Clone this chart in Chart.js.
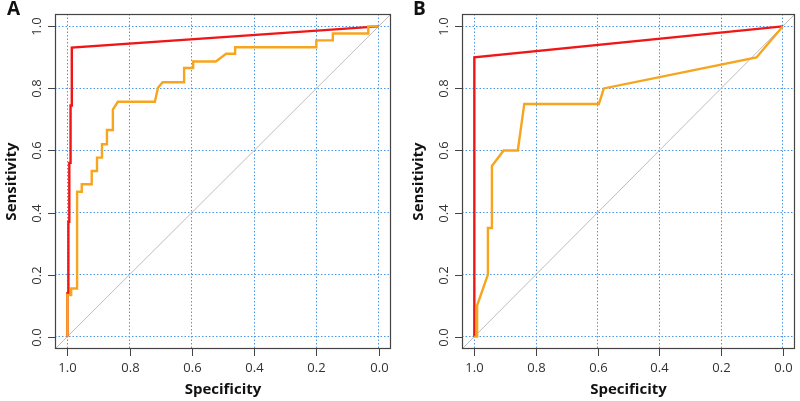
<!DOCTYPE html>
<html>
<head>
<meta charset="utf-8">
<script src="https://cdn.jsdelivr.net/npm/chart.js@4.4.0/dist/chart.umd.min.js"></script>
<style>
  body { margin: 0; background: #fff; }
  .panel { position: absolute; top: 0; width: 400px; height: 401px; }
</style>
</head>
<body>
<div class="panel" style="left:0"><canvas id="chartA" width="400" height="401"></canvas></div>
<div class="panel" style="left:400px"><canvas id="chartB" width="400" height="401"></canvas></div>
<script>
// ticks shared by both axes
const tickValues = [0, 0.2, 0.4, 0.6, 0.8, 1.0];
const tickLabels = ["0.0", "0.2", "0.4", "0.6", "0.8", "1.0"];
const axisMin = -0.04, axisMax = 1.04;

// panel A - red curve
const specA1 = [1, 1, 0.997, 0.997, 0.994, 0.994, 0.99, 0.99, 0.986, 0.986, 0];
const sensA1 = [0, 0.14, 0.14, 0.37, 0.37, 0.56, 0.56, 0.745, 0.745, 0.932, 1];
// panel A - orange curve
const specA2 = [1, 1, 0.988, 0.988, 0.969, 0.969, 0.954, 0.954, 0.922, 0.922, 0.905, 0.905,
  0.889, 0.889, 0.873, 0.873, 0.854, 0.854, 0.838, 0.719, 0.709, 0.694, 0.625, 0.625,
  0.596, 0.596, 0.523, 0.49, 0.461, 0.461, 0.2, 0.2, 0.147, 0.147, 0.033, 0.033, 0];
const sensA2 = [0, 0.134, 0.134, 0.155, 0.155, 0.467, 0.467, 0.491, 0.491, 0.534, 0.534, 0.577,
  0.577, 0.62, 0.62, 0.666, 0.666, 0.732, 0.757, 0.757, 0.802, 0.82, 0.82, 0.866,
  0.866, 0.887, 0.887, 0.912, 0.912, 0.933, 0.933, 0.955, 0.955, 0.977, 0.977, 1, 1];

// panel B - red curve
const specB1 = [1, 1, 0];
const sensB1 = [0, 0.9, 1];
// panel B - orange curve
const specB2 = [1, 0.991, 0.991, 0.956, 0.956, 0.943, 0.943, 0.905, 0.859, 0.838, 0.596, 0.58, 0.085, 0];
const sensB2 = [0, 0, 0.1, 0.2, 0.35, 0.35, 0.55, 0.6, 0.6, 0.75, 0.75, 0.8, 0.9, 1];

const redColor = "#f01616";
const orangeColor = "#f7a51e";
const gridColor = "#4b97e6";
const boxColor = "#444";
const textColor = "#333";
const fontFam = "'Open Sans', 'Noto Sans', sans-serif";

const pts = (xs, ys) => xs.map((x, i) => ({ x: x, y: ys[i] }));

// box, ticks, labels and titles drawn R-style
const decorPlugin = {
  id: "decor",
  afterDraw(chart) {
    const ctx = chart.ctx;
    const a = chart.chartArea;
    const xs = chart.scales.x, ys = chart.scales.y;
    const opt = chart.options.plugins.decor;
    ctx.save();
    ctx.strokeStyle = boxColor;
    ctx.lineWidth = 1.2;
    ctx.strokeRect(Math.round(a.left) + 0.5, Math.round(a.top) + 0.5,
      Math.round(a.right - a.left) - 1, Math.round(a.bottom - a.top) - 1);

    ctx.lineWidth = 1;
    ctx.fillStyle = textColor;
    ctx.font = "13px " + fontFam;
    ctx.textAlign = "center";
    ctx.textBaseline = "middle";
    tickValues.forEach((v, i) => {
      const px = Math.round(xs.getPixelForValue(v)) + 0.5;
      ctx.beginPath();
      ctx.moveTo(px, a.bottom);
      ctx.lineTo(px, a.bottom + 7);
      ctx.stroke();
      ctx.fillText(tickLabels[i], px, a.bottom + 19);

      const py = Math.round(ys.getPixelForValue(v)) + 0.5;
      ctx.beginPath();
      ctx.moveTo(a.left - 7, py);
      ctx.lineTo(a.left, py);
      ctx.stroke();
      ctx.save();
      ctx.translate(a.left - 18, py);
      ctx.rotate(-Math.PI / 2);
      ctx.fillText(tickLabels[i], 0, 0);
      ctx.restore();
    });

    ctx.fillStyle = "#111";
    ctx.font = "bold 15px " + fontFam;
    ctx.fillText("Specificity", (a.left + a.right) / 2, 390);
    ctx.save();
    ctx.translate(a.left - 43, (a.top + a.bottom) / 2);
    ctx.rotate(-Math.PI / 2);
    ctx.fillText("Sensitivity", 0, 0);
    ctx.restore();

    ctx.font = "bold 19px " + fontFam;
    ctx.textAlign = "left";
    ctx.textBaseline = "alphabetic";
    ctx.fillText(opt.letter, opt.letterX, 15);
    ctx.restore();
  }
};

function makePanel(id, letter, letterX, leftW, rightPad, rSpec, rSens, oSpec, oSens) {
  const axisBase = {
    type: "linear",
    min: axisMin,
    max: axisMax,
    afterBuildTicks: s => { s.ticks = tickValues.map(v => ({ value: v })); },
    ticks: { display: false },
    grid: { color: gridColor, lineWidth: 1, drawTicks: false, tickLength: 0 },
    border: { display: false, dash: [1.5, 2] }
  };
  return new Chart(document.getElementById(id), {
    type: "scatter",
    plugins: [decorPlugin],
    data: {
      datasets: [
        { data: pts(oSpec, oSens), borderColor: orangeColor, borderWidth: 2.4, order: 0 },
        { data: pts(rSpec, rSens), borderColor: redColor, borderWidth: 2.4, order: 1 },
        { data: pts([axisMax, axisMin], [axisMin, axisMax]), borderColor: "#bdbdbd", borderWidth: 1, order: 2 }
      ]
    },
    options: {
      responsive: false,
      animation: false,
      showLine: true,
      layout: { padding: { top: 14, right: rightPad, left: 0, bottom: 0 } },
      elements: { point: { radius: 0, hoverRadius: 0 }, line: { tension: 0, fill: false } },
      datasets: { scatter: { clip: 0 } },
      plugins: {
        legend: { display: false },
        tooltip: { enabled: false },
        decor: { letter: letter, letterX: letterX }
      },
      scales: {
        x: Object.assign({}, axisBase, { reverse: true, afterFit: s => { s.height = 52; } }),
        y: Object.assign({}, axisBase, { afterFit: s => { s.width = leftW; } })
      }
    }
  });
}

makePanel("chartA", "A", 7, 55, 9, specA1, sensA1, specA2, sensA2);
makePanel("chartB", "B", 13, 62, 5, specB1, sensB1, specB2, sensB2);
</script>
</body>
</html>
